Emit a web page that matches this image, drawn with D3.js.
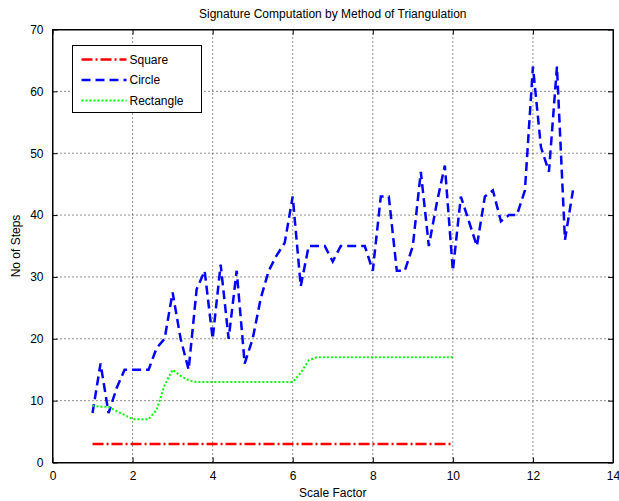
<!DOCTYPE html>
<html>
<head>
<meta charset="utf-8">
<script src="https://cdn.jsdelivr.net/npm/d3@7"></script>
<style>
  body { margin: 0; background: #fff; }
  text { font-family: "Liberation Sans", Arial, sans-serif; }
</style>
</head>
<body>
<div class="chart-container"></div>
<script>
// data
const xTicks = [0, 2, 4, 6, 8, 10, 12, 14]
const yTicks = [0, 10, 20, 30, 40, 50, 60, 70]

const squareX = [1, 10]
const squareY = [3, 3]

const circleX = [1.0, 1.2, 1.4, 1.6, 1.8, 2.0, 2.2, 2.4, 2.6, 2.8,
                 3.0, 3.2, 3.4, 3.6, 3.8, 4.0, 4.2, 4.4, 4.6, 4.8,
                 5.0, 5.2, 5.4, 5.6, 5.8, 6.0, 6.2, 6.4, 6.6, 6.8,
                 7.0, 7.2, 7.4, 7.6, 7.8, 8.0, 8.2, 8.4, 8.6, 8.8,
                 9.0, 9.2, 9.4, 9.6, 9.8, 10.0, 10.2, 10.4, 10.6, 10.8,
                 11.0, 11.2, 11.4, 11.6, 11.8, 12.0, 12.2, 12.4, 12.6, 12.8, 13.0]
const circleY = [8, 16, 8, 12, 15, 15, 15, 15, 18.5, 20,
                 27.5, 20, 15, 28, 31, 20, 32, 20, 31, 16,
                 20, 26.5, 31, 33.5, 35.5, 43, 28.5, 35, 35, 35,
                 32.5, 35, 35, 35, 35, 31, 43, 43, 31, 31,
                 35, 47, 35, 42, 48, 31, 43, 39, 35, 43,
                 44, 39, 40, 40, 44, 64, 51, 47, 64, 36, 44]

const rectX = [1.0, 1.2, 1.4, 1.6, 1.8, 2.0, 2.2, 2.4, 2.6, 2.8,
               3.0, 3.2, 3.4, 3.6, 3.8, 4.0, 4.5, 5.0, 5.5, 6.0,
               6.2, 6.4, 6.6, 7.0, 8.0, 9.0, 10.0]
const rectY = [9.2, 9, 9, 8.3, 7.7, 7, 7, 7, 8.5, 12.5,
               15, 14, 13.3, 13, 13, 13, 13, 13, 13, 13,
               14.5, 16.5, 17, 17, 17, 17, 17]

const series = [
  { name: 'Square', xs: squareX, ys: squareY, color: '#ff0000', width: 2.5, dash: '11,3,2,3' },
  { name: 'Circle', xs: circleX, ys: circleY, color: '#0000ff', width: 2.5, dash: '9,5' },
  { name: 'Rectangle', xs: rectX, ys: rectY, color: '#00ff00', width: 2, dash: '2,2' }
]

const width = 619, height = 501
const margin = { top: 29.5, right: 6, bottom: 38.5, left: 52.5 }
const innerW = width - margin.left - margin.right
const innerH = height - margin.top - margin.bottom

const svg = d3.select('.chart-container').append('svg')
    .attr('width', width)
    .attr('height', height)

const xScale = d3.scaleLinear().domain([0, 14]).range([0, innerW])
const yScale = d3.scaleLinear().domain([0, 70]).range([innerH, 0])

const plot = svg.append('g')
    .attr('transform', `translate(${margin.left},${margin.top})`)

// grid
plot.selectAll('.vgrid')
    .data(xTicks.slice(1, -1))
    .enter()
    .append('line')
    .attr('x1', d => xScale(d)).attr('x2', d => xScale(d))
    .attr('y1', 0).attr('y2', innerH)
    .attr('stroke', '#222').attr('stroke-width', 1)
    .attr('stroke-dasharray', '1,3')

plot.selectAll('.hgrid')
    .data(yTicks.slice(1, -1))
    .enter()
    .append('line')
    .attr('x1', 0).attr('x2', innerW)
    .attr('y1', d => yScale(d)).attr('y2', d => yScale(d))
    .attr('stroke', '#222').attr('stroke-width', 1)
    .attr('stroke-dasharray', '1,3')

// axes with inward ticks
const fmt = d3.format('d')
plot.append('g')
    .attr('transform', `translate(0,${innerH})`)
    .call(d3.axisBottom(xScale).tickValues(xTicks).tickSizeInner(-5).tickSizeOuter(0).tickPadding(9).tickFormat(fmt))
plot.append('g')
    .call(d3.axisTop(xScale).tickValues(xTicks).tickSizeInner(-5).tickSizeOuter(0).tickFormat(''))
plot.append('g')
    .call(d3.axisLeft(yScale).tickValues(yTicks).tickSizeInner(-5).tickSizeOuter(0).tickPadding(9).tickFormat(fmt))
plot.append('g')
    .attr('transform', `translate(${innerW},0)`)
    .call(d3.axisRight(yScale).tickValues(yTicks).tickSizeInner(-5).tickSizeOuter(0).tickFormat(''))

plot.selectAll('.domain').attr('stroke', '#000')
plot.selectAll('.tick line').attr('stroke', '#000')
plot.selectAll('.tick text')
    .attr('font-size', 12)
    .attr('fill', '#000')
    .attr('font-family', '"Liberation Sans", Arial, sans-serif')

plot.append('rect')
    .attr('width', innerW).attr('height', innerH)
    .attr('fill', 'none').attr('stroke', '#000').attr('stroke-width', 1)

// lines
const line = d3.line()
    .x(d => xScale(d[0]))
    .y(d => yScale(d[1]))

series.forEach(s => {
  plot.append('path')
      .datum(s.xs.map((x, i) => [x, s.ys[i]]))
      .attr('d', line)
      .attr('fill', 'none')
      .attr('stroke', s.color)
      .attr('stroke-width', s.width)
      .attr('stroke-dasharray', s.dash)
})

// legend
const legend = svg.append('g').attr('transform', 'translate(72.5,45.5)')
legend.append('rect')
    .attr('width', 129).attr('height', 67)
    .attr('fill', '#fff').attr('stroke', '#000').attr('stroke-width', 1)
series.forEach((s, i) => {
  const y = 14 + i * 20.5
  legend.append('line')
      .attr('x1', 9).attr('x2', 54)
      .attr('y1', y).attr('y2', y)
      .attr('stroke', s.color)
      .attr('stroke-width', s.width)
      .attr('stroke-dasharray', s.dash)
  legend.append('text')
      .attr('x', 57).attr('y', y)
      .attr('dy', '0.35em')
      .attr('font-size', 12)
      .text(s.name)
})

// titles
svg.append('text')
    .attr('x', margin.left + innerW / 2).attr('y', 18)
    .attr('text-anchor', 'middle').attr('font-size', 12)
    .text('Signature Computation by Method of Triangulation')
svg.append('text')
    .attr('x', margin.left + innerW / 2).attr('y', 497)
    .attr('text-anchor', 'middle').attr('font-size', 12)
    .text('Scale Factor')
svg.append('text')
    .attr('transform', `translate(20,${margin.top + innerH / 2}) rotate(-90)`)
    .attr('text-anchor', 'middle').attr('font-size', 12)
    .text('No of Steps')
</script>
</body>
</html>
